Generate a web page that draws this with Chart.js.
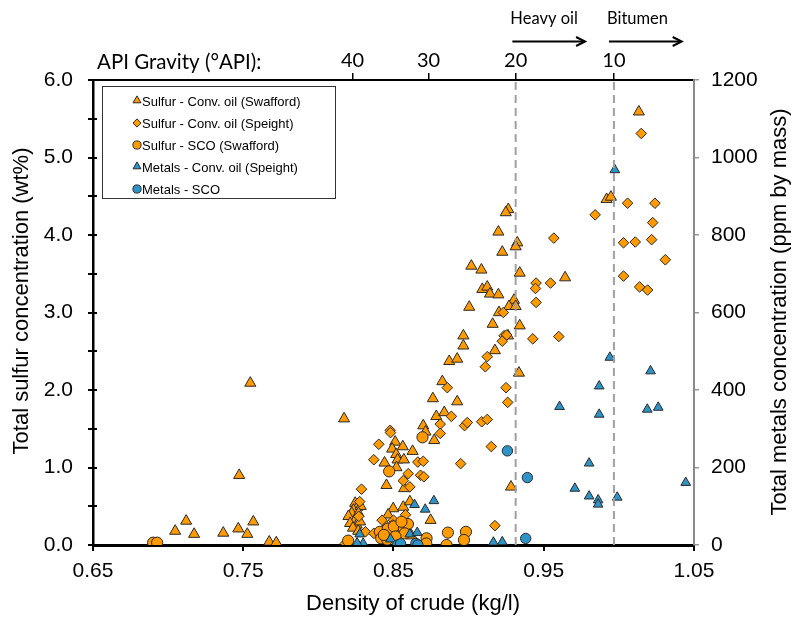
<!DOCTYPE html>
<html><head><meta charset="utf-8">
<script src="https://cdn.jsdelivr.net/npm/chart.js@4/dist/chart.umd.min.js"></script>
<style>html,body{margin:0;padding:0;background:#fff}</style>
</head><body>
<canvas id="c" width="792" height="619"></canvas>
<script>
// ---------- DATA ----------
const densityTicks = [0.65, 0.75, 0.85, 0.95, 1.05];
const apiTickLabels = ['40', '30', '20', '10'];
const apiTickDensity = [0.8227, 0.8733, 0.9313, 0.9967];
const boundaryDensity = [0.9313, 0.9967];           // 20 °API and 10 °API
const classLabels = ['Heavy oil', 'Bitumen'];
const classArrowFrom = [0.9291, 0.9934];
const classArrowTo = [0.9775, 1.0418];

const seriesNames = [
  'Sulfur - Conv. oil (Swafford)',
  'Sulfur - Conv. oil (Speight)',
  'Sulfur - SCO (Swafford)',
  'Metals - Conv. oil (Speight)',
  'Metals - SCO'
];

// [density kg/l, sulfur wt%]
const sulfurConvSwafford = [
  [0.7047,0.18],[0.712,0.31],[0.7173,0.14],[0.7367,0.155],[0.7467,0.21],[0.7527,0.14],[0.7567,0.30],
  [0.7547,2.09],[0.7473,0.90],[0.7673,0.04],[0.772,0.03],
  [0.8171,1.63],[0.8825,2.11],[0.8762,1.89],[0.8924,1.85],[0.8785,1.66],[0.8838,1.71],[0.8698,1.54],
  [0.8713,1.46],[0.8771,1.35],[0.8511,1.33],[0.8491,1.24],[0.8562,1.27],[0.8627,1.21],[0.8518,1.17],
  [0.844,1.06],[0.8527,1.10],[0.8569,1.10],[0.852,1.00],[0.8453,0.77],[0.8571,0.73],[0.9282,0.75],
  [0.8245,0.54],[0.826,0.49],[0.8233,0.45],[0.8282,0.50],[0.8222,0.41],[0.8267,0.41],[0.82,0.37],
  [0.8245,0.32],[0.8211,0.28],[0.8255,0.26],[0.8278,0.30],[0.823,0.22],[0.8265,0.18],
  [0.8498,0.47],[0.8565,0.49],[0.8609,0.56],[0.8464,0.39],[0.8747,0.32],[0.845,0.25],[0.855,0.20],[0.862,0.12],
  [0.9264,4.33],[0.9247,4.29],[0.9198,4.04],[0.9324,3.90],[0.9313,3.85],[0.9224,3.78],[0.9018,3.60],
  [0.9085,3.55],[0.934,3.51],[0.9642,3.45],[0.9091,3.30],[0.9124,3.33],[0.9142,3.24],[0.9198,3.23],
  [0.9302,3.16],[0.9269,3.08],[0.9313,3.08],[0.9004,3.07],[0.9202,3.00],[0.916,2.85],[0.934,2.83],
  [0.8965,2.70],[0.9262,2.70],[0.8965,2.57],[0.9175,2.51],[0.8871,2.37],[0.8924,2.40],[0.9335,2.22],
  [1.0133,5.59],[0.9918,4.46],[0.9947,4.49]
];
const sulfurConvSpeight = [
  [0.9249,2.03],[0.926,1.84],[0.8858,2.03],[0.8885,1.66],[0.8811,1.56],[0.8811,1.44],[0.8973,1.54],
  [0.8991,1.58],[0.9087,1.59],[0.9124,1.62],[0.9151,1.27],[0.8947,1.05],[0.8478,1.48],[0.848,1.45],
  [0.8402,1.30],[0.8369,1.10],[0.8662,1.07],[0.8698,1.08],[0.8598,0.92],[0.868,0.90],[0.8702,0.88],
  [0.8565,0.83],[0.8609,0.75],[0.8287,0.72],[0.9175,0.25],[0.8269,0.37],[0.8275,0.56],[0.8313,0.17],
  [0.8369,0.15],[0.8424,0.32],[0.85,0.32],[0.858,0.39],[0.8495,0.26],[0.8447,0.11],[0.8702,0.0],[0.818,0.02],
  [0.9842,4.26],[0.9567,3.96],[0.9449,3.38],[0.9445,3.31],[0.9545,3.38],[0.9449,3.13],[0.9231,3.00],
  [0.9236,2.70],[0.9253,2.71],[0.9224,2.63],[0.9427,2.66],[0.96,2.69],[0.9124,2.43],[0.9111,2.30],
  [1.0149,5.31],[1.0058,4.41],[1.024,4.41],[1.0225,4.16],[1.0031,3.90],[1.0109,3.91],[1.0218,3.94],
  [1.0309,3.68],[1.0031,3.47],[1.0138,3.33],[1.0191,3.29]
];
const sulfurSCOSwafford = [
  [0.69,0.03],[0.6927,0.03],[0.8693,1.39],[0.8471,0.95],[0.8198,0.056],[0.8862,0.16],[0.8982,0.17],
  [0.8969,0.065],[0.8853,0.0],[0.8409,0.17],[0.8418,0.086],[0.8462,0.21],[0.8502,0.24],[0.8569,0.21],
  [0.8596,0.27],[0.8575,0.15],[0.8513,0.11],[0.872,0.086],[0.8718,0.02],[0.8458,0.07],[0.8553,0.30],[0.8436,0.13]
];
// [density kg/l, metals ppm by mass]
const metalsConvSpeight = [
  [0.864,104],[0.8711,92],[0.8769,114],[0.8275,28],[0.8298,4],[0.8258,5],[0.848,15],[0.8609,28],
  [0.8658,32],[0.9165,7],[0.9224,8],
  [0.9973,968],[0.994,484],[1.0211,449],[0.9869,410],[0.9869,337],[1.0189,350],[1.0262,355],
  [0.9605,357],[0.9802,211],[0.9707,146],[0.9802,126],[0.9862,116],[0.9862,105],[0.9989,123],[1.0445,161]
];
const metalsSCO = [
  [0.9258,243],[0.9391,174],[0.938,17],[0.8527,0],[0.8547,3],[0.8649,4],[0.8662,0]
];

// ---------- STYLE ----------
const ORANGE = '#FF9A00', BLUE = '#2E93C6', EDGE = '#2a2a2a';
const FONT = 'Liberation Sans, Arial, sans-serif';
const FONT2 = 'Lato, "Open Sans", sans-serif';
const toXY = arr => arr.map(p => ({x: p[0], y: p[1]}));

const styles = [
  {pointStyle:'triangle', radius:6.4, color:ORANGE, axis:'y', data:sulfurConvSwafford, order:4},
  {pointStyle:'rectRot', radius:5.3, color:ORANGE, axis:'y', data:sulfurConvSpeight, order:3},
  {pointStyle:'circle', radius:5.6, color:ORANGE, axis:'y', data:sulfurSCOSwafford, order:2},
  {pointStyle:'triangle', radius:5.6, color:BLUE, axis:'y2', data:metalsConvSpeight, order:1},
  {pointStyle:'circle', radius:5.2, color:BLUE, axis:'y2', data:metalsSCO, order:0}
];

const datasets = styles.map((s, i) => ({
  type:'scatter', label: seriesNames[i], data: toXY(s.data), yAxisID: s.axis,
  pointStyle: s.pointStyle, pointRadius: s.radius, pointHoverRadius: s.radius,
  backgroundColor: s.color, borderColor: EDGE, pointBorderWidth: 1, borderWidth: 1, order: s.order
}));
boundaryDensity.forEach((d, i) => datasets.push({
  type:'line', label:'boundary' + i, data:[{x:d, y:0}, {x:d, y:6}], yAxisID:'y',
  borderColor:'#a0a0a0', borderWidth:2, borderDash:[8,5], pointRadius:0, order:-1
}));

const decorPlugin = {
  id:'decor',
  afterDraw(chart) {
    const ctx = chart.ctx, xs = chart.scales.x, ys = chart.scales.y, area = chart.chartArea;
    ctx.save();
    // inward tick marks on left axis
    ctx.strokeStyle = '#000'; ctx.lineWidth = 2;
    ys.ticks.forEach(t => {
      const py = Math.round(ys.getPixelForValue(t.value));
      ctx.beginPath(); ctx.moveTo(area.left, py); ctx.lineTo(area.left + 4, py); ctx.stroke();
    });
    // top label
    ctx.fillStyle = '#000';
    ctx.font = '20.5px ' + FONT2;
    ctx.textBaseline = 'middle'; ctx.textAlign = 'left';
    ctx.fillText('API Gravity (°API):', 97, 62);
    // class arrows
    ctx.font = '16.5px ' + FONT2;
    ctx.strokeStyle = '#000'; ctx.lineWidth = 2;
    classLabels.forEach((t, i) => {
      const x0 = xs.getPixelForValue(classArrowFrom[i]), x1 = xs.getPixelForValue(classArrowTo[i]);
      ctx.fillText(t, x0 - 2, 19);
      ctx.beginPath(); ctx.moveTo(x0, 41.5); ctx.lineTo(x1 - 2, 41.5); ctx.stroke();
      ctx.beginPath(); ctx.moveTo(x1 - 9, 37); ctx.lineTo(x1, 41.5); ctx.lineTo(x1 - 9, 46); ctx.stroke();
    });
    // axis titles
    ctx.font = '22px ' + FONT; ctx.textAlign = 'center';
    ctx.fillText('Density of crude (kg/l)', 413, 604);
    ctx.save(); ctx.translate(22, 301); ctx.rotate(-Math.PI/2);
    ctx.fillText('Total sulfur concentration (wt%)', 0, 0); ctx.restore();
    ctx.save(); ctx.translate(780, 312); ctx.rotate(-Math.PI/2);
    ctx.fillText('Total metals concentration (ppm by mass)', 0, 0); ctx.restore();
    // legend
    const lx = 102.5, ly = 86.5, lw = 233, lh = 112;
    ctx.fillStyle = '#fff'; ctx.fillRect(lx, ly, lw, lh);
    ctx.strokeStyle = '#333'; ctx.lineWidth = 1; ctx.strokeRect(lx, ly, lw, lh);
    ctx.font = '13px ' + FONT; ctx.textAlign = 'left'; ctx.textBaseline = 'middle';
    const rows = [101, 123, 145, 167, 189];
    styles.forEach((s, i) => {
      ctx.fillStyle = s.color; ctx.strokeStyle = EDGE; ctx.lineWidth = 1;
      Chart.helpers.drawPoint(ctx, {pointStyle:s.pointStyle, radius: s.pointStyle==='triangle'?4.6:4.1, borderWidth:1, rotation:0}, 137, rows[i] - (s.pointStyle==='triangle'?0.5:0));
      ctx.fillStyle = '#000';
      ctx.fillText(seriesNames[i], 142, rows[i] + 1);
    });
    ctx.restore();
  }
};

new Chart(document.getElementById('c'), {
  data: {datasets},
  options: {
    responsive:false, animation:false, devicePixelRatio:1,
    layout:{padding:0},
    plugins:{legend:{display:false}, tooltip:{enabled:false}},
    scales:{
      x:{type:'linear', position:'bottom', min:0.65, max:1.05,
        afterBuildTicks: s => { s.ticks = densityTicks.map(v => ({value:v})); },
        afterFit: s => { s.height = 74; },
        ticks:{callback: v => v.toFixed(2), font:{family:FONT, size:21}, color:'#000', padding:8, autoSkip:false, maxRotation:0},
        grid:{drawOnChartArea:false, tickLength:6, color:'#000', lineWidth:2},
        border:{color:'#000', width:3}
      },
      x2:{type:'linear', axis:'x', position:'top', min:0.65, max:1.05,
        afterBuildTicks: s => { s.ticks = apiTickDensity.map(v => ({value:v})); },
        afterFit: s => { s.height = 80; },
        ticks:{callback: (v, i) => apiTickLabels[i], font:{family:FONT2, size:20}, color:'#000', padding:0, autoSkip:false, maxRotation:0},
        grid:{drawOnChartArea:false, tickLength:7, color:'#000', lineWidth:1.5},
        border:{color:'#000', width:2}
      },
      y:{type:'linear', position:'left', min:0, max:6,
        afterFit: s => { s.width = 93; },
        ticks:{stepSize:0.5, callback: v => Math.abs(v - Math.round(v)) < 1e-9 ? v.toFixed(1) : '', font:{family:FONT, size:21}, color:'#000', padding:15, autoSkip:false},
        grid:{drawOnChartArea:false, tickLength:5, color:'#000', lineWidth:2},
        border:{color:'#000', width:2.5}
      },
      y2:{type:'linear', position:'right', min:0, max:1200,
        afterFit: s => { s.width = 98; },
        ticks:{stepSize:200, callback: v => String(v), font:{family:FONT, size:21}, color:'#000', padding:12, autoSkip:false},
        grid:{drawOnChartArea:false, tickLength:5, color:'#999', lineWidth:1.5},
        border:{color:'#8a8a8a', width:2}
      }
    }
  },
  plugins:[decorPlugin]
});
</script>
</body></html>
